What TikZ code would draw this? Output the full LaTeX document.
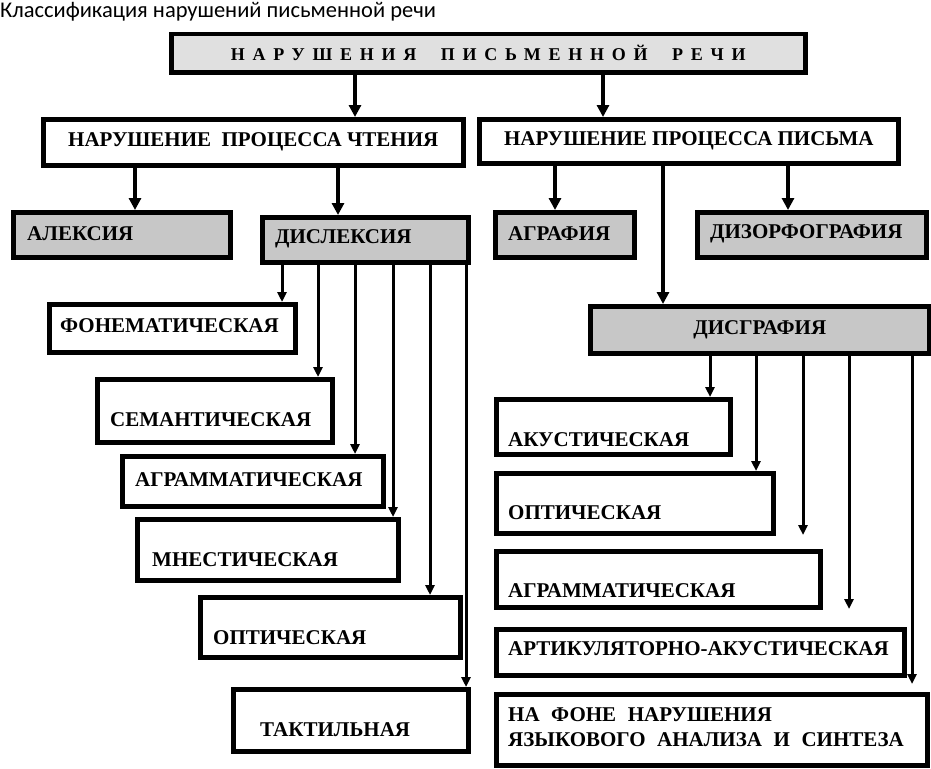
\documentclass[tikz,border=0pt]{standalone}
\usepackage{fontspec}
\setmainfont{Liberation Serif}
\newfontfamily\titlefont{Carlito}
\newfontfamily\spacedfont[LetterSpace=43]{Liberation Serif}
\newfontfamily\widefont[WordSpace=2.2]{Liberation Serif}
\usetikzlibrary{positioning, arrows.meta}

\begin{document}
\begin{tikzpicture}[x=1pt, y=-1pt,
    wbox/.style={rectangle, draw, line width=4.5pt, fill=white, anchor=north west, inner sep=0pt},
    gbox/.style={wbox, fill=black!22},
    lbl/.style={font=\bfseries\fontsize{21}{25}\selectfont, inner sep=0pt},
    arr/.style={line width=4.5pt, -{Triangle[length=12pt, width=12pt]}},
    sub/.style={line width=3pt, -{Triangle[length=10pt, width=9pt]}}]
    \useasboundingbox (0,0) rectangle (931,768);
    \node[anchor=north west, inner sep=0pt, font=\titlefont\fontsize{22.5}{26}\selectfont] (title) at (0,2) {Классификация нарушений письменной речи};

    \node[gbox, fill=black!12, minimum width=634pt, minimum height=38pt, font=\spacedfont\bfseries\fontsize{18}{21}\selectfont] (main) at (169,32) {НАРУШЕНИЯ\ \ ПИСЬМЕННОЙ\ \ РЕЧИ};
    \node[wbox, minimum width=420pt, minimum height=46pt, lbl] (reading) at (41,117) {НАРУШЕНИЕ\ \ ПРОЦЕССА ЧТЕНИЯ};
    \node[wbox, minimum width=419pt, minimum height=44pt, lbl] (writing) at (477,117) {НАРУШЕНИЕ ПРОЦЕССА\ ПИСЬМА};

    \node[gbox, minimum width=217pt, minimum height=45pt] (alexia) at (11,210) {};
    \node[lbl, right=16pt of alexia.west, yshift=1pt] (alexia-t) {АЛЕКСИЯ};
    \node[gbox, minimum width=206pt, minimum height=45pt] (dyslexia) at (260,215) {};
    \node[lbl, right=15pt of dyslexia.west, yshift=1pt] (dyslexia-t) {ДИСЛЕКСИЯ};
    \node[gbox, minimum width=139pt, minimum height=45pt] (agraphia) at (493,210) {};
    \node[lbl, right=15pt of agraphia.west, yshift=1pt] (agraphia-t) {АГРАФИЯ};
    \node[gbox, minimum width=229pt, minimum height=45pt] (dysorth) at (695,210) {};
    \node[lbl, right=15pt of dysorth.west, yshift=1pt] (dysorth-t) {ДИЗОРФОГРАФИЯ};
    \node[gbox, minimum width=339pt, minimum height=47pt, lbl] (dysgraphia) at (588,304) {ДИСГРАФИЯ};

    \node[wbox, minimum width=246pt, minimum height=48pt] (phon) at (47,302) {};
    \node[lbl, right=13pt of phon.west, yshift=3pt] (phon-t) {ФОНЕМАТИЧЕСКАЯ};
    \node[wbox, minimum width=235pt, minimum height=63pt] (sem) at (95,377) {};
    \node[lbl, right=15pt of sem.west, yshift=-8.5pt] (sem-t) {СЕМАНТИЧЕСКАЯ};
    \node[wbox, minimum width=261pt, minimum height=50pt] (agrL) at (120,454) {};
    \node[lbl, right=15pt of agrL.west, yshift=2pt] (agrL-t) {АГРАММАТИЧЕСКАЯ};
    \node[wbox, minimum width=261pt, minimum height=61pt] (mnest) at (135,517) {};
    \node[lbl, right=17pt of mnest.west, yshift=-9.5pt] (mnest-t) {МНЕСТИЧЕСКАЯ};
    \node[wbox, minimum width=260pt, minimum height=60pt] (optL) at (198,595) {};
    \node[lbl, right=15pt of optL.west, yshift=-10pt] (optL-t) {ОПТИЧЕСКАЯ};
    \node[wbox, minimum width=235pt, minimum height=62pt] (tact) at (231,687) {};
    \node[lbl, right=29pt of tact.west, yshift=-9pt] (tact-t) {ТАКТИЛЬНАЯ};

    \node[wbox, minimum width=234pt, minimum height=55pt] (acou) at (494,397) {};
    \node[lbl, right=14pt of acou.west, yshift=-12.5pt] (acou-t) {АКУСТИЧЕСКАЯ};
    \node[wbox, minimum width=277pt, minimum height=60pt] (optR) at (494,471) {};
    \node[lbl, right=14pt of optR.west, yshift=-9pt] (optR-t) {ОПТИЧЕСКАЯ};
    \node[wbox, minimum width=324pt, minimum height=56pt] (agrR) at (494,549) {};
    \node[lbl, right=14pt of agrR.west, yshift=-11pt] (agrR-t) {АГРАММАТИЧЕСКАЯ};
    \node[wbox, minimum width=408pt, minimum height=46pt] (artic) at (494,627) {};
    \node[lbl, right=14pt of artic.west, yshift=4pt] (artic-t) {АРТИКУЛЯТОРНО-АКУСТИЧЕСКАЯ};
    \node[wbox, minimum width=431pt, minimum height=71pt] (lang) at (494,692) {};
    \node[lbl, font=\widefont\bfseries\fontsize{21}{25}\selectfont, align=left, right=14pt of lang.west, yshift=3pt] (lang-t) {НА ФОНЕ НАРУШЕНИЯ\\ЯЗЫКОВОГО АНАЛИЗА И СИНТЕЗА};

    \draw[arr] (main.south -| 355,0) -- (reading.north -| 355,0);
    \draw[arr] (main.south -| 603,0) -- (writing.north -| 603,0);
    \draw[arr] (reading.south -| 135,0) -- (alexia.north -| 135,0);
    \draw[arr] (reading.south -| 338,0) -- (dyslexia.north -| 338,0);
    \draw[arr] (writing.south -| 555,0) -- (agraphia.north -| 555,0);
    \draw[arr] (writing.south -| 663,0) -- (dysgraphia.north -| 663,0);
    \draw[arr] (writing.south -| 788,0) -- (dysorth.north -| 788,0);

    \draw[sub] (dyslexia.south -| 282,0) -- (phon.north -| 282,0);
    \draw[sub] (dyslexia.south -| 318,0) -- (sem.north -| 318,0);
    \draw[sub] (dyslexia.south -| 355,0) -- (agrL.north -| 355,0);
    \draw[sub] (dyslexia.south -| 393,0) -- (mnest.north -| 393,0);
    \draw[sub] (dyslexia.south -| 430,0) -- (optL.north -| 430,0);
    \draw[sub] (dyslexia.south -| 466,0) -- (tact.north -| 466,0);

    \draw[sub] (dysgraphia.south -| 710,0) -- (acou.north -| 710,0);
    \draw[sub] (dysgraphia.south -| 756,0) -- (optR.north -| 756,0);
    \draw[sub, shorten >=14pt] (dysgraphia.south -| 803,0) -- (agrR.north -| 803,0);
    \draw[sub, shorten >=18pt] (dysgraphia.south -| 849,0) -- (artic.north -| 849,0);
    \draw[sub, shorten >=8pt] (dysgraphia.south -| 912,0) -- (lang.north -| 912,0);
\end{tikzpicture}
\end{document}
